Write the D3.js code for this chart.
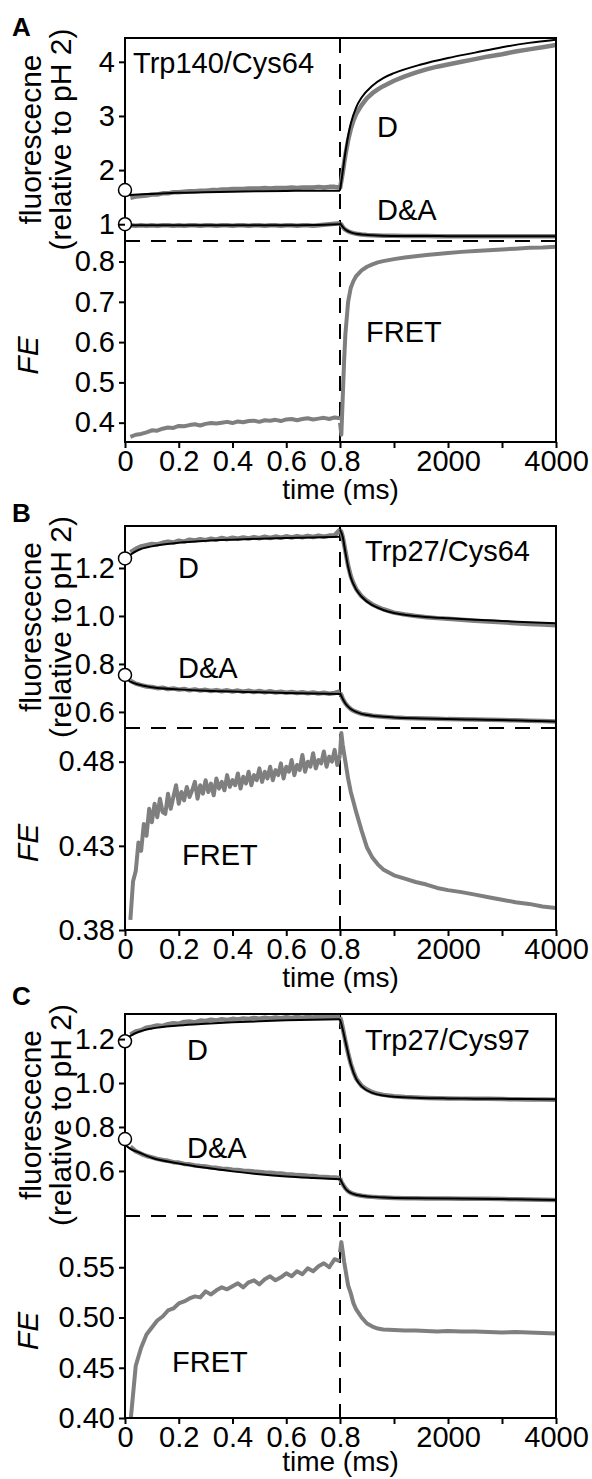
<!DOCTYPE html>
<html>
<head>
<meta charset="utf-8">
<script src="https://cdnjs.cloudflare.com/ajax/libs/d3/7.8.5/d3.min.js"></script>
<style>
  body { margin: 0; background: #fff; }
  svg { display: block; font-family: "Liberation Sans", Arial, sans-serif; }
</style>
</head>
<body>
<script>
// ---- time grids (ms). left half is 0..0.8 ms, right half 0..4000 ms after the jump
const tLeft = [0.02, 0.04, 0.06, 0.08, 0.10, 0.12, 0.14, 0.16, 0.18, 0.20,
               0.22, 0.24, 0.26, 0.28, 0.30, 0.32, 0.34, 0.36, 0.38, 0.40,
               0.42, 0.44, 0.46, 0.48, 0.50, 0.52, 0.54, 0.56, 0.58, 0.60,
               0.62, 0.64, 0.66, 0.68, 0.70, 0.72, 0.74, 0.76, 0.78, 0.80];
const tLeftFine = [0.02, 0.03, 0.04, 0.05, 0.06, 0.07, 0.08, 0.09, 0.10, 0.11,
                   0.12, 0.13, 0.14, 0.15, 0.16, 0.17, 0.18, 0.19, 0.20, 0.21,
                   0.22, 0.23, 0.24, 0.25, 0.26, 0.27, 0.28, 0.29, 0.30, 0.31,
                   0.32, 0.33, 0.34, 0.35, 0.36, 0.37, 0.38, 0.39, 0.40, 0.41,
                   0.42, 0.43, 0.44, 0.45, 0.46, 0.47, 0.48, 0.49, 0.50, 0.51,
                   0.52, 0.53, 0.54, 0.55, 0.56, 0.57, 0.58, 0.59, 0.60, 0.61,
                   0.62, 0.63, 0.64, 0.65, 0.66, 0.67, 0.68, 0.69, 0.70, 0.71,
                   0.72, 0.73, 0.74, 0.75, 0.76, 0.77, 0.78, 0.79, 0.80];
const tRight = [0, 25, 50, 75, 100, 150, 200, 250, 300, 400, 500, 600, 700, 800,
                1000, 1200, 1400, 1600, 1800, 2000, 2250, 2500, 2750, 3000, 3250, 3500, 3750, 4000];
const tFitLeft = [0, 0.02, 0.05, 0.1, 0.2, 0.3, 0.4, 0.5, 0.6, 0.7, 0.8];
const tFitRight = [0, 50, 100, 150, 200, 300, 400, 600, 800, 1000, 1500, 2000, 2500, 3000, 3500, 4000];

const xLeftTicks = [0, 0.2, 0.4, 0.6, 0.8];
const xLeftLabels = ["0", "0.2", "0.4", "0.6", "0.8"];
const xRightTicks = [1000, 2000, 3000, 4000];
const xRightLabels = ["", "2000", "", "4000"];

// ---- panel A : Trp140/Cys64
const aDLeft = [1.49, 1.51, 1.52, 1.53, 1.55, 1.55, 1.57, 1.57, 1.59, 1.59,
                1.60, 1.61, 1.61, 1.62, 1.62, 1.63, 1.63, 1.64, 1.64, 1.65,
                1.65, 1.65, 1.66, 1.66, 1.66, 1.67, 1.66, 1.67, 1.67, 1.67,
                1.68, 1.67, 1.68, 1.68, 1.68, 1.69, 1.68, 1.69, 1.69, 1.68];
const aDRight = [1.66, 1.80, 1.95, 2.12, 2.28, 2.55, 2.76, 2.92, 3.04, 3.20, 3.33, 3.42, 3.49, 3.55,
                 3.65, 3.73, 3.80, 3.86, 3.91, 3.95, 4.00, 4.05, 4.10, 4.14, 4.19, 4.23, 4.27, 4.31];
const aDFitLeft = [1.53, 1.54, 1.55, 1.56, 1.58, 1.59, 1.60, 1.61, 1.615, 1.62, 1.62];
const aDFitRight = [1.62, 1.97, 2.33, 2.63, 2.86, 3.16, 3.34, 3.56, 3.70, 3.79, 3.95, 4.07, 4.17, 4.27, 4.35, 4.41];
const aDALeft = [0.98, 0.97, 0.98, 0.97, 0.98, 0.97, 0.98, 0.98, 0.97, 0.98,
                 0.97, 0.98, 0.98, 0.97, 0.98, 0.98, 0.97, 0.98, 0.98, 0.97,
                 0.98, 0.98, 0.97, 0.98, 0.98, 0.97, 0.98, 0.98, 0.97, 0.98,
                 0.98, 0.97, 0.98, 0.98, 0.97, 0.98, 0.99, 1.00, 1.01, 1.02];
const aDARight = [1.02, 0.99, 0.95, 0.92, 0.90, 0.87, 0.85, 0.835, 0.825, 0.81, 0.80, 0.795, 0.79, 0.787,
                  0.785, 0.783, 0.782, 0.781, 0.78, 0.78, 0.779, 0.779, 0.778, 0.778, 0.778, 0.777, 0.777, 0.777];
const aDAFitLeft = [0.98, 0.98, 0.98, 0.98, 0.98, 0.98, 0.98, 0.98, 0.98, 0.985, 1.00];
const aDAFitRight = [1.02, 0.95, 0.90, 0.87, 0.85, 0.825, 0.81, 0.795, 0.787, 0.784, 0.781, 0.78, 0.779, 0.778, 0.778, 0.777];
const aFretLeft = [0.365, 0.370, 0.372, 0.376, 0.381, 0.380, 0.385, 0.388, 0.387, 0.392,
                   0.391, 0.394, 0.396, 0.393, 0.397, 0.399, 0.398, 0.400, 0.402, 0.399,
                   0.403, 0.401, 0.404, 0.405, 0.402, 0.406, 0.405, 0.407, 0.404, 0.408,
                   0.409, 0.406, 0.409, 0.411, 0.408, 0.410, 0.412, 0.409, 0.413, 0.411];
const aFretRight = [0.40, 0.37, 0.46, 0.55, 0.62, 0.70, 0.735, 0.752, 0.764, 0.778, 0.787, 0.793, 0.798, 0.801,
                    0.806, 0.810, 0.813, 0.816, 0.819, 0.821, 0.824, 0.826, 0.828, 0.830, 0.832, 0.834, 0.835, 0.837];
const aStart = [1.63, 1.00];

// ---- panel B : Trp27/Cys64
const bDLeft = [1.265, 1.28, 1.29, 1.295, 1.30, 1.298, 1.305, 1.31, 1.306, 1.314,
                1.31, 1.318, 1.315, 1.32, 1.316, 1.322, 1.318, 1.325, 1.32, 1.326,
                1.322, 1.327, 1.323, 1.328, 1.324, 1.33, 1.325, 1.331, 1.326, 1.332,
                1.327, 1.333, 1.328, 1.334, 1.329, 1.335, 1.33, 1.335, 1.336, 1.36];
const bDRight = [1.36, 1.35, 1.33, 1.30, 1.27, 1.21, 1.165, 1.135, 1.112, 1.082, 1.063, 1.048, 1.037, 1.028,
                 1.014, 1.006, 1.0, 0.995, 0.991, 0.988, 0.984, 0.98, 0.977, 0.974, 0.97, 0.967, 0.964, 0.961];
const bDFitLeft = [1.235, 1.255, 1.275, 1.29, 1.305, 1.313, 1.318, 1.322, 1.325, 1.327, 1.33];
const bDFitRight = [1.36, 1.33, 1.265, 1.205, 1.16, 1.11, 1.08, 1.045, 1.025, 1.012, 0.998, 0.99, 0.984, 0.979, 0.974, 0.97];
const bDALeft = [0.73, 0.718, 0.712, 0.706, 0.704, 0.699, 0.701, 0.695, 0.698, 0.693,
                 0.696, 0.69, 0.694, 0.689, 0.692, 0.687, 0.691, 0.686, 0.69, 0.685,
                 0.689, 0.684, 0.688, 0.683, 0.687, 0.682, 0.686, 0.681, 0.684, 0.68,
                 0.683, 0.679, 0.682, 0.678, 0.681, 0.677, 0.68, 0.676, 0.679, 0.685];
const bDARight = [0.68, 0.67, 0.655, 0.645, 0.636, 0.622, 0.612, 0.605, 0.60, 0.592, 0.588, 0.584, 0.582, 0.58,
                  0.577, 0.575, 0.574, 0.573, 0.572, 0.57, 0.569, 0.568, 0.567, 0.566, 0.565, 0.563, 0.562, 0.56];
const bDAFitLeft = [0.74, 0.726, 0.714, 0.703, 0.694, 0.688, 0.685, 0.682, 0.679, 0.677, 0.675];
const bDAFitRight = [0.678, 0.655, 0.635, 0.622, 0.612, 0.60, 0.592, 0.584, 0.58, 0.577, 0.573, 0.57, 0.568, 0.566, 0.563, 0.56];
// B's FRET trace is noisier, read on the finer grid
const bFretLeft = [0.386, 0.409, 0.415, 0.432, 0.427, 0.443, 0.436, 0.452, 0.444, 0.455,
                   0.447, 0.458, 0.450, 0.449, 0.461, 0.452, 0.459, 0.466, 0.455, 0.462,
                   0.457, 0.465, 0.459, 0.463, 0.468, 0.458, 0.466, 0.461, 0.469, 0.462,
                   0.467, 0.460, 0.470, 0.464, 0.468, 0.463, 0.472, 0.465, 0.469, 0.466,
                   0.473, 0.464, 0.471, 0.467, 0.474, 0.466, 0.472, 0.469, 0.476, 0.468,
                   0.474, 0.470, 0.477, 0.469, 0.475, 0.472, 0.479, 0.470, 0.477, 0.474,
                   0.481, 0.472, 0.478, 0.475, 0.484, 0.474, 0.480, 0.477, 0.485, 0.476,
                   0.481, 0.479, 0.486, 0.477, 0.483, 0.480, 0.487, 0.478, 0.484];
const bFretRight = [0.484, 0.497, 0.490, 0.485, 0.480, 0.470, 0.462, 0.456, 0.450, 0.439, 0.429, 0.423, 0.419, 0.416,
                    0.4125, 0.4105, 0.4085, 0.407, 0.405, 0.4037, 0.4025, 0.401, 0.3995, 0.398, 0.3965, 0.3955, 0.394, 0.393];
const bStart = [1.24, 0.754];

// ---- panel C : Trp27/Cys97
const cDLeft = [1.22, 1.235, 1.24, 1.252, 1.256, 1.262, 1.26, 1.268, 1.272, 1.27,
                1.278, 1.28, 1.276, 1.284, 1.282, 1.288, 1.285, 1.29, 1.287, 1.292,
                1.289, 1.294, 1.291, 1.296, 1.293, 1.297, 1.294, 1.298, 1.295, 1.299,
                1.296, 1.30, 1.297, 1.30, 1.298, 1.302, 1.299, 1.302, 1.30, 1.30];
const cDRight = [1.30, 1.28, 1.25, 1.22, 1.19, 1.135, 1.087, 1.05, 1.02, 0.987, 0.97, 0.958, 0.951, 0.946,
                 0.94, 0.936, 0.934, 0.932, 0.931, 0.93, 0.929, 0.928, 0.928, 0.927, 0.926, 0.925, 0.925, 0.924];
const cDFitLeft = [1.20, 1.215, 1.232, 1.248, 1.262, 1.27, 1.276, 1.281, 1.285, 1.288, 1.29];
const cDFitRight = [1.29, 1.245, 1.19, 1.135, 1.085, 1.018, 0.985, 0.955, 0.943, 0.937, 0.932, 0.93, 0.929, 0.928, 0.927, 0.926];
const cDALeft = [0.71, 0.69, 0.678, 0.668, 0.662, 0.655, 0.65, 0.646, 0.64, 0.638,
                 0.632, 0.63, 0.625, 0.622, 0.62, 0.616, 0.614, 0.61, 0.609, 0.606,
                 0.604, 0.601, 0.60, 0.597, 0.595, 0.593, 0.592, 0.589, 0.588, 0.585,
                 0.584, 0.581, 0.58, 0.578, 0.577, 0.574, 0.573, 0.571, 0.57, 0.568];
const cDARight = [0.566, 0.55, 0.54, 0.53, 0.521, 0.508, 0.50, 0.495, 0.492, 0.487, 0.484, 0.482, 0.48, 0.479,
                  0.477, 0.476, 0.476, 0.475, 0.475, 0.475, 0.474, 0.474, 0.473, 0.472, 0.471, 0.47, 0.469, 0.468];
const cDAFitLeft = [0.72, 0.70, 0.685, 0.66, 0.634, 0.614, 0.598, 0.585, 0.575, 0.568, 0.562];
const cDAFitRight = [0.565, 0.54, 0.52, 0.508, 0.50, 0.492, 0.487, 0.482, 0.479, 0.477, 0.476, 0.475, 0.474, 0.472, 0.47, 0.468];
const cFretLeft = [0.395, 0.452, 0.470, 0.483, 0.490, 0.497, 0.501, 0.507, 0.509, 0.514,
                   0.516, 0.519, 0.521, 0.520, 0.526, 0.523, 0.527, 0.530, 0.528, 0.531,
                   0.534, 0.530, 0.535, 0.537, 0.533, 0.538, 0.541, 0.537, 0.540, 0.544,
                   0.541, 0.546, 0.543, 0.549, 0.546, 0.551, 0.554, 0.550, 0.558, 0.556];
const cFretRight = [0.565, 0.575, 0.566, 0.556, 0.548, 0.532, 0.524, 0.514, 0.508, 0.50, 0.494, 0.491, 0.489, 0.488,
                    0.4875, 0.487, 0.487, 0.4865, 0.486, 0.4865, 0.486, 0.486, 0.4855, 0.485, 0.4855, 0.485, 0.4845, 0.484];
const cStart = [1.19, 0.745];

// y tick values / labels
const aTopTicks = [1, 2, 3, 4], aTopLabels = ["1", "2", "3", "4"];
const aFeTicks = [0.4, 0.5, 0.6, 0.7, 0.8], aFeLabels = ["0.4", "0.5", "0.6", "0.7", "0.8"];
const bTopTicks = [0.6, 0.8, 1.0, 1.2], bTopLabels = ["0.6", "0.8", "1.0", "1.2"];
const bFeTicks = [0.38, 0.43, 0.48], bFeLabels = ["0.38", "0.43", "0.48"];
const cTopTicks = [0.6, 0.8, 1.0, 1.2], cTopLabels = ["0.6", "0.8", "1.0", "1.2"];
const cFeTicks = [0.40, 0.45, 0.50, 0.55], cFeLabels = ["0.40", "0.45", "0.50", "0.55"];

// ---- layout
const w = 592, h = 1479;
const x0 = 125, xMid = 340, x1 = 556;
const fs = 29;

const panels = [
  { letter: "A", letterY: 36, top: 38, split: 241, bottom: 442, timeY: 499,
    topDomain: [0.69, 4.44], feDomain: [0.352, 0.851],
    topTicks: aTopTicks, topLabels: aTopLabels, feTicks: aFeTicks, feLabels: aFeLabels,
    dL: aDLeft, dR: aDRight, dFL: aDFitLeft, dFR: aDFitRight,
    daL: aDALeft, daR: aDARight, daFL: aDAFitLeft, daFR: aDAFitRight,
    fT: tLeft, fL: aFretLeft, fR: aFretRight, start: aStart,
    title: ["Trp140/Cys64", 133, 73], dLab: [377, 137], daLab: [377, 220], fretLab: [366, 342] },
  { letter: "B", letterY: 522, top: 526, split: 728, bottom: 930, timeY: 987,
    topDomain: [0.533, 1.375], feDomain: [0.38, 0.50],
    topTicks: bTopTicks, topLabels: bTopLabels, feTicks: bFeTicks, feLabels: bFeLabels,
    dL: bDLeft, dR: bDRight, dFL: bDFitLeft, dFR: bDFitRight,
    daL: bDALeft, daR: bDARight, daFL: bDAFitLeft, daFR: bDAFitRight,
    fT: tLeftFine, fL: bFretLeft, fR: bFretRight, start: bStart,
    title: ["Trp27/Cys64", 365, 561], dLab: [178, 578], daLab: [178, 678], fretLab: [182, 865] },
  { letter: "C", letterY: 1005, top: 1014, split: 1216, bottom: 1418, timeY: 1471,
    topDomain: [0.395, 1.314], feDomain: [0.40, 0.601],
    topTicks: cTopTicks, topLabels: cTopLabels, feTicks: cFeTicks, feLabels: cFeLabels,
    dL: cDLeft, dR: cDRight, dFL: cDFitLeft, dFR: cDFitRight,
    daL: cDALeft, daR: cDARight, daFL: cDAFitLeft, daFR: cDAFitRight,
    fT: tLeft, fL: cFretLeft, fR: cFretRight, start: cStart,
    title: ["Trp27/Cys97", 365, 1050], dLab: [187, 1060], daLab: [187, 1158], fretLab: [172, 1372] }
];

const svg = d3.select("body").append("svg")
  .attr("width", w)
  .attr("height", h);

const xL = d3.scaleLinear().domain([0, 0.8]).range([x0, xMid]);
const xR = d3.scaleLinear().domain([0, 4000]).range([xMid, x1]);

function pathOf(ts, vs, xs, ys, smooth) {
  const gen = d3.line();
  if (smooth) gen.curve(d3.curveMonotoneX);
  return gen(ts.map((t, i) => [xs(t), ys(vs[i])]));
}

function styleAxis(g) {
  g.attr("font-size", fs).attr("font-family", null);
  g.select(".domain").remove();
  g.selectAll("line").attr("stroke", "#000").attr("stroke-width", 2);
  g.selectAll("text").attr("fill", "#000");
}

function drawTrace(g, y, left, right, color, width, smooth, tl, tr) {
  [[tl, left, xL], [tr, right, xR]].forEach(function (s) {
    g.append("path")
      .attr("d", pathOf(s[0], s[1], s[2], y, smooth))
      .attr("fill", "none")
      .attr("stroke", color)
      .attr("stroke-width", width)
      .attr("stroke-linejoin", "round");
  });
}

panels.forEach(function (p, k) {
  const yTop = d3.scaleLinear().domain(p.topDomain).range([p.split, p.top]);
  const yFe = d3.scaleLinear().domain(p.feDomain).range([p.bottom, p.split]);

  // clips
  svg.append("clipPath").attr("id", "ct" + k).append("rect")
    .attr("x", x0).attr("y", p.top).attr("width", x1 - x0).attr("height", p.split - p.top);
  svg.append("clipPath").attr("id", "cb" + k).append("rect")
    .attr("x", x0).attr("y", p.split).attr("width", x1 - x0).attr("height", p.bottom - p.split);

  // dashed guides
  svg.append("line").attr("x1", x0).attr("x2", x1).attr("y1", p.split).attr("y2", p.split)
    .attr("stroke", "#000").attr("stroke-width", 2).attr("stroke-dasharray", "15,11");
  svg.append("line").attr("x1", xMid).attr("x2", xMid).attr("y1", p.top).attr("y2", p.bottom)
    .attr("stroke", "#000").attr("stroke-width", 2).attr("stroke-dasharray", "15,11");

  const gt = svg.append("g").attr("clip-path", "url(#ct" + k + ")");
  drawTrace(gt, yTop, p.dL, p.dR, "#7f7f7f", 4.5, false, tLeft, tRight);
  drawTrace(gt, yTop, p.daL, p.daR, "#7f7f7f", 4.5, false, tLeft, tRight);
  drawTrace(gt, yTop, p.dFL, p.dFR, "#000", 2, true, tFitLeft, tFitRight);
  drawTrace(gt, yTop, p.daFL, p.daFR, "#000", 2, true, tFitLeft, tFitRight);

  const gb = svg.append("g").attr("clip-path", "url(#cb" + k + ")");
  drawTrace(gb, yFe, p.fL, p.fR, "#7f7f7f", 4, false, p.fT, tRight);

  // frame
  svg.append("rect").attr("x", x0).attr("y", p.top)
    .attr("width", x1 - x0).attr("height", p.bottom - p.top)
    .attr("fill", "none").attr("stroke", "#000").attr("stroke-width", 2);

  // start markers
  svg.selectAll(null).data(p.start).enter().append("circle")
    .attr("cx", xL(0))
    .attr("cy", (d) => yTop(d))
    .attr("r", 6.5)
    .attr("fill", "#fff").attr("stroke", "#000").attr("stroke-width", 1.5);

  // axes
  svg.append("g").attr("transform", "translate(" + x0 + ",0)")
    .call(d3.axisLeft(yTop).tickValues(p.topTicks).tickFormat((d, i) => p.topLabels[i])
      .tickSize(6).tickPadding(4))
    .call(styleAxis);
  svg.append("g").attr("transform", "translate(" + x0 + ",0)")
    .call(d3.axisLeft(yFe).tickValues(p.feTicks).tickFormat((d, i) => p.feLabels[i])
      .tickSize(6).tickPadding(4))
    .call(styleAxis);
  svg.append("g").attr("transform", "translate(0," + p.bottom + ")")
    .call(d3.axisBottom(xL).tickValues(xLeftTicks).tickFormat((d, i) => xLeftLabels[i])
      .tickSize(6).tickPadding(2))
    .call(styleAxis);
  svg.append("g").attr("transform", "translate(0," + p.bottom + ")")
    .call(d3.axisBottom(xR).tickValues(xRightTicks).tickFormat((d, i) => xRightLabels[i])
      .tickSize(6).tickPadding(2))
    .call(styleAxis);

  // texts
  svg.append("text").attr("x", 12).attr("y", p.letterY)
    .attr("font-size", 26).attr("font-weight", "bold").text(p.letter);

  const cTop = (p.top + p.split) / 2;
  svg.append("text").attr("transform", "translate(41," + cTop + ") rotate(-90)")
    .attr("text-anchor", "middle").attr("font-size", 30).text("fluorescecne");
  svg.append("text").attr("transform", "translate(71," + cTop + ") rotate(-90)")
    .attr("text-anchor", "middle").attr("font-size", 30).text("(relative to pH 2)");
  svg.append("text").attr("transform", "translate(38," + ((p.split + p.bottom) / 2 + 14) + ") rotate(-90)")
    .attr("text-anchor", "middle").attr("font-size", 30).attr("font-style", "italic").text("FE");

  svg.append("text").attr("x", (x0 + x1) / 2).attr("y", p.timeY)
    .attr("text-anchor", "middle").attr("font-size", 28).text("time (ms)");

  svg.append("text").attr("x", p.title[1]).attr("y", p.title[2]).attr("font-size", fs).text(p.title[0]);
  svg.append("text").attr("x", p.dLab[0]).attr("y", p.dLab[1]).attr("font-size", fs).text("D");
  svg.append("text").attr("x", p.daLab[0]).attr("y", p.daLab[1]).attr("font-size", fs).text("D&A");
  svg.append("text").attr("x", p.fretLab[0]).attr("y", p.fretLab[1]).attr("font-size", fs).text("FRET");
});
</script>
</body>
</html>
